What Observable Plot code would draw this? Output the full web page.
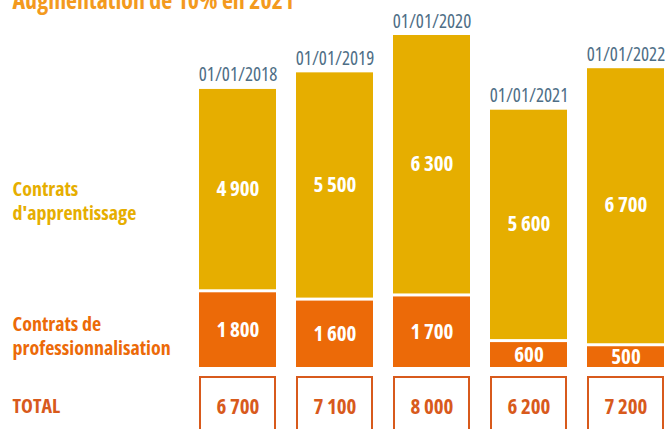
<!DOCTYPE html>
<html>
<head>
<meta charset="utf-8">
<script src="https://cdn.jsdelivr.net/npm/d3@7"></script>
<script src="https://cdn.jsdelivr.net/npm/@observablehq/plot@0.6"></script>
<style>
  html, body { margin: 0; padding: 0; background: #fff; overflow: hidden; }
  #chart svg { font-family: "Open Sans", sans-serif; font-stretch: condensed; }
</style>
</head>
<body>
<div id="chart"></div>
<script>
const title = "Augmentation de 10% en 2021";
const dates = ["01/01/2018", "01/01/2019", "01/01/2020", "01/01/2021", "01/01/2022"];
const apprentissage = [4900, 5500, 6300, 5600, 6700];
const professionnalisation = [1800, 1600, 1700, 600, 500];
const totals = [6700, 7100, 8000, 6200, 7200];
const seriesLabels = ["Contrats\nd'apprentissage", "Contrats de\nprofessionnalisation", "TOTAL"];

const GOLD = "#E6AE00", ORANGE = "#EC6A08", DARK = "#D85A1C", SLATE = "#4E6E86", TITLE = "#F39A1E";
const fmt = d3.formatLocale({decimal: ",", thousands: "\u2009", grouping: [3], currency: ["", " €"]}).format(",");

const rows = dates.map((d, i) => ({
  date: d,
  pro: professionnalisation[i],
  app: apprentissage[i],
  total: totals[i]
}));

const chart = Plot.plot({
  width: 665,
  height: 429,
  marginTop: 0, marginBottom: 0, marginLeft: 0, marginRight: 0,
  x: {domain: dates, range: [177, 687], padding: 0.2041, axis: null},
  y: {domain: [0, 8000], range: [367, 35], axis: null},
  marks: [
    Plot.barY(rows, {x: "date", y1: 0, y2: "pro", fill: ORANGE}),
    Plot.barY(rows, {x: "date", y1: "pro", y2: d => d.pro + d.app, fill: GOLD, insetBottom: 3}),
    Plot.text(rows, {x: "date", y: d => d.pro / 2, text: d => fmt(d.pro), fill: "white",
      fontWeight: "bold", fontSize: 21, lineAnchor: "middle"}),
    Plot.text(rows, {x: "date", y: d => d.pro + d.app / 2, text: d => fmt(d.app), fill: "white",
      fontWeight: "bold", fontSize: 21, lineAnchor: "middle", dy: -2}),
    Plot.text(rows, {x: "date", y: "total", text: "date", fill: SLATE, fontSize: 19,
      fontWeight: 400, lineAnchor: "bottom", dy: -8}),
    Plot.cell(rows, {x: "date", fill: "white", stroke: DARK, strokeWidth: 2,
      insetTop: 377, insetBottom: -10, insetLeft: 1, insetRight: 1}),
    Plot.text(rows, {x: "date", text: d => fmt(d.total), fill: DARK, fontWeight: "bold", fontSize: 21,
      frameAnchor: "bottom", lineAnchor: "bottom", dy: -16}),
    Plot.text([seriesLabels[0]], {text: d => d, frameAnchor: "top-left", textAnchor: "start",
      lineAnchor: "bottom", dx: 12, dy: 219, fill: GOLD, fontWeight: "bold", fontSize: 20, lineHeight: 1.2}),
    Plot.text([seriesLabels[1]], {text: d => d, frameAnchor: "top-left", textAnchor: "start",
      lineAnchor: "bottom", dx: 12, dy: 354, fill: ORANGE, fontWeight: "bold", fontSize: 20, lineHeight: 1.2}),
    Plot.text([seriesLabels[2]], {text: d => d, frameAnchor: "top-left", textAnchor: "start",
      lineAnchor: "bottom", dx: 12, dy: 412, fill: DARK, fontWeight: "bold", fontSize: 20}),
    Plot.text([title], {text: d => d, frameAnchor: "top-left", textAnchor: "start",
      lineAnchor: "bottom", dx: 12, dy: 8, fill: TITLE, fontWeight: "bold", fontSize: 24})
  ]
});
document.getElementById("chart").append(chart);
</script>
</body>
</html>
